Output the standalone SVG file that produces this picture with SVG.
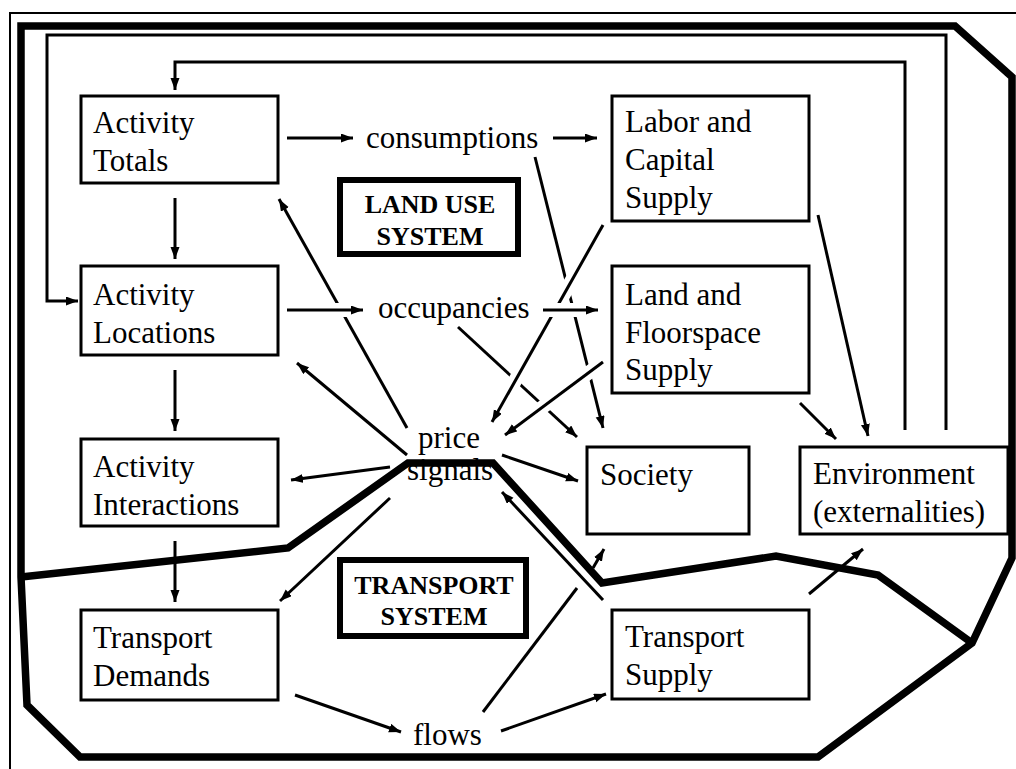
<svg xmlns="http://www.w3.org/2000/svg" width="1016" height="769" viewBox="0 0 1016 769">
<style>
.bx{fill:#fff;stroke:#000;stroke-width:3}
.sb{fill:#fff;stroke:#000;stroke-width:6}
.t{font-family:"Liberation Serif","Times New Roman",serif;font-size:31px;fill:#000}
.b{font-family:"Liberation Serif","Times New Roman",serif;font-size:26px;font-weight:bold;fill:#000;text-anchor:middle}
.c{fill:none;stroke:#000;stroke-width:3}
.h{fill:none;stroke:#fff;stroke-width:14}
.k{fill:none;stroke:#000;stroke-width:7.5;stroke-linejoin:miter}
</style>
<defs>
<marker id="a" markerUnits="userSpaceOnUse" markerWidth="13" markerHeight="10" refX="12" refY="4.5" orient="auto">
<path d="M0,0 L12,4.5 L0,9 z" fill="#000"/>
</marker>
</defs>
<rect width="1016" height="769" fill="#fff"/>
<rect x="10" y="13" width="1020" height="770" fill="none" stroke="#000" stroke-width="2"/>
<g id="boundaries">
<polygon class="k" points="21,26 955,26 1012,77 1012,558 972,643 818,757 80,757 27,705 21,577"/>
<polyline class="k" points="21,577 288,548 408,463 493,463 602,583 776,556 878,575 972,643"/>
</g>
<g id="connectors">
<path class="c" d="M905,430 V62 H175 V90" marker-end="url(#a)"/>
<path class="c" d="M946,430 V35 H47 V301 H78" marker-end="url(#a)"/>
<line class="c" x1="287" y1="138" x2="353" y2="138" marker-end="url(#a)"/>
<line class="c" x1="553" y1="138" x2="597" y2="138" marker-end="url(#a)"/>
<line class="c" x1="175" y1="198" x2="175" y2="259" marker-end="url(#a)"/>
<line class="c" x1="175" y1="370" x2="175" y2="431" marker-end="url(#a)"/>
<line class="c" x1="175" y1="541" x2="175" y2="602" marker-end="url(#a)"/>
<line class="c" x1="535" y1="157" x2="603" y2="428" marker-end="url(#a)"/>
<line class="c" x1="458" y1="327" x2="577" y2="437" marker-end="url(#a)"/>
<line class="c" x1="407" y1="428" x2="279" y2="199" marker-end="url(#a)"/>
<line class="h" x1="603" y1="225" x2="498" y2="411"/>
<line class="c" x1="603" y1="225" x2="492" y2="422" marker-end="url(#a)"/>
<line class="h" x1="603" y1="362" x2="512" y2="430"/>
<line class="c" x1="603" y1="362" x2="505" y2="435" marker-end="url(#a)"/>
<line class="h" x1="287" y1="310" x2="352" y2="310"/>
<line class="c" x1="287" y1="310" x2="363" y2="310" marker-end="url(#a)"/>
<line class="h" x1="543" y1="310" x2="590" y2="310"/>
<line class="c" x1="543" y1="310" x2="598" y2="310" marker-end="url(#a)"/>
<line class="c" x1="407" y1="455" x2="297" y2="363" marker-end="url(#a)"/>
<line class="c" x1="390" y1="467" x2="291" y2="480" marker-end="url(#a)"/>
<line class="c" x1="390" y1="498" x2="280" y2="601" marker-end="url(#a)"/>
<line class="c" x1="502" y1="455" x2="578" y2="481" marker-end="url(#a)"/>
<line class="c" x1="603" y1="600" x2="502" y2="492" marker-end="url(#a)"/>
<line class="c" x1="483" y1="712" x2="577" y2="588"/>
<line class="c" x1="593" y1="568" x2="604" y2="549" marker-end="url(#a)"/>
<line class="c" x1="295" y1="695" x2="401" y2="732" marker-end="url(#a)"/>
<line class="c" x1="501" y1="731" x2="606" y2="694" marker-end="url(#a)"/>
<line class="c" x1="809" y1="594" x2="863" y2="549" marker-end="url(#a)"/>
<line class="c" x1="800" y1="403" x2="836" y2="439" marker-end="url(#a)"/>
<line class="c" x1="818" y1="215" x2="868" y2="436" marker-end="url(#a)"/>
</g>
<g id="activity-totals"><rect class="bx" x="81" y="96" width="197" height="87"/><text class="t" x="93" y="133">Activity</text><text class="t" x="93" y="171">Totals</text></g>
<g id="activity-locations"><rect class="bx" x="81" y="266" width="197" height="89"/><text class="t" x="93" y="305">Activity</text><text class="t" x="93" y="343">Locations</text></g>
<g id="activity-interactions"><rect class="bx" x="81" y="439" width="197" height="87"/><text class="t" x="93" y="477">Activity</text><text class="t" x="93" y="515">Interactions</text></g>
<g id="transport-demands"><rect class="bx" x="81" y="610" width="197" height="90"/><text class="t" x="93" y="648">Transport</text><text class="t" x="93" y="686">Demands</text></g>
<g id="labor-capital"><rect class="bx" x="612" y="96" width="197" height="125"/><text class="t" x="625" y="132">Labor and</text><text class="t" x="625" y="170">Capital</text><text class="t" x="625" y="208">Supply</text></g>
<g id="land-floorspace"><rect class="bx" x="612" y="266" width="197" height="127"/><text class="t" x="625" y="305">Land and</text><text class="t" x="625" y="343">Floorspace</text><text class="t" x="625" y="380">Supply</text></g>
<g id="society"><rect class="bx" x="587" y="447" width="162" height="87"/><text class="t" x="600" y="485">Society</text></g>
<g id="environment"><rect class="bx" x="800" y="447" width="208" height="87"/><text class="t" x="813" y="484">Environment</text><text class="t" x="813" y="522">(externalities)</text></g>
<g id="transport-supply"><rect class="bx" x="612" y="610" width="197" height="89"/><text class="t" x="625" y="647">Transport</text><text class="t" x="625" y="685">Supply</text></g>
<g id="consumptions"><text class="t" x="366" y="148">consumptions</text></g>
<g id="occupancies"><text class="t" x="378" y="318">occupancies</text></g>
<g id="price-signals"><text class="t" x="418" y="448">price</text><text class="t" x="407" y="480">signals</text></g>
<g id="flows"><text class="t" x="413" y="745">flows</text></g>
<g id="land-use-system"><rect class="sb" x="340" y="180" width="178" height="74"/><text class="b" x="430" y="213">LAND USE</text><text class="b" x="430" y="245">SYSTEM</text></g>
<g id="transport-system"><rect class="sb" x="340" y="560" width="186" height="76"/><text class="b" x="434" y="594">TRANSPORT</text><text class="b" x="434" y="625">SYSTEM</text></g>
</svg>
